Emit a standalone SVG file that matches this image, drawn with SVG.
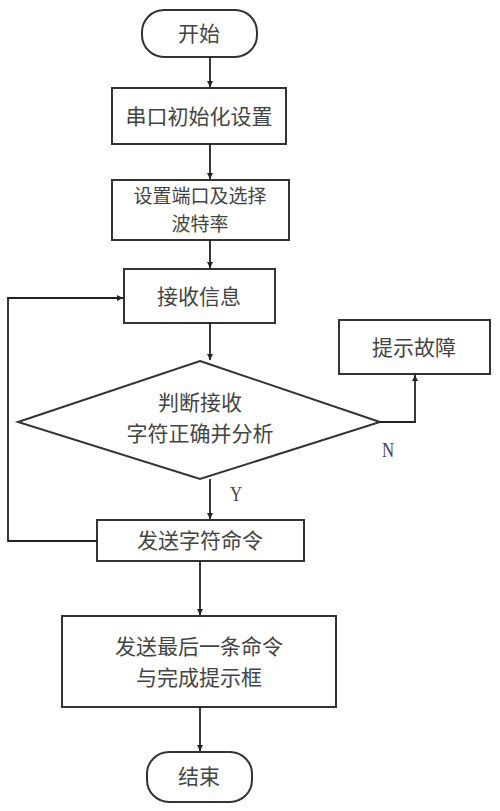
<svg xmlns="http://www.w3.org/2000/svg" width="500" height="811" viewBox="0 0 500 811">
<style>
.n{fill:#fff;stroke:#333;stroke-width:2}
.t{font-family:"Noto Sans CJK SC","Noto Sans",sans-serif;font-size:21px;fill:#444;text-anchor:middle}
.s{font-size:19px}
.l{font-family:"Liberation Serif",serif;font-size:21px;fill:#444;text-anchor:middle}
.c{fill:none;stroke:#222;stroke-width:1.8}
</style>
<defs>
<marker id="a" markerWidth="8" markerHeight="8" refX="6" refY="4" orient="auto" markerUnits="userSpaceOnUse">
<path d="M0,1 L6,4 L0,7 Z" fill="#222"/>
</marker>
</defs>
<rect width="500" height="811" fill="#fff"/>
<g id="start"><rect class="n" x="142" y="10" width="115" height="47" rx="22"/><text class="t" x="199" y="41">开始</text></g>
<g id="init"><rect class="n" x="112" y="88" width="174" height="56"/><text class="t" x="199" y="124">串口初始化设置</text></g>
<g id="port"><rect class="n" x="112" y="180" width="177" height="60"/><text class="t s" x="200" y="203">设置端口及选择</text><text class="t s" x="200" y="231">波特率</text></g>
<g id="recv"><rect class="n" x="124" y="269" width="151" height="54"/><text class="t" x="199" y="304">接收信息</text></g>
<g id="judge"><polygon class="n" points="200,361 380,422 200,479 18,422"/><text class="t" x="200" y="410">判断接收</text><text class="t" x="200" y="441">字符正确并分析</text></g>
<g id="fault"><rect class="n" x="339" y="320" width="151" height="54"/><text class="t" x="414" y="355">提示故障</text></g>
<g id="send"><rect class="n" x="97" y="520" width="207" height="41"/><text class="t" x="200" y="548">发送字符命令</text></g>
<g id="last"><rect class="n" x="62" y="616" width="274" height="91"/><text class="t" x="199" y="654">发送最后一条命令</text><text class="t" x="199" y="685">与完成提示框</text></g>
<g id="end"><rect class="n" x="147" y="752" width="105" height="50" rx="22"/><text class="t" x="199" y="784">结束</text></g>
<g id="connectors">
<line class="c" x1="210" y1="57" x2="210" y2="87" marker-end="url(#a)"/>
<line class="c" x1="210" y1="144" x2="210" y2="179" marker-end="url(#a)"/>
<line class="c" x1="210" y1="240" x2="210" y2="268" marker-end="url(#a)"/>
<line class="c" x1="210" y1="323" x2="210" y2="360" marker-end="url(#a)"/>
<polyline class="c" points="380,422 415,422 415,375" marker-end="url(#a)"/>
<line class="c" x1="210" y1="479" x2="210" y2="519" marker-end="url(#a)"/>
<polyline class="c" points="97,541 8,541 8,298 123,298" marker-end="url(#a)"/>
<line class="c" x1="200" y1="561" x2="200" y2="615" marker-end="url(#a)"/>
<line class="c" x1="200" y1="707" x2="200" y2="751" marker-end="url(#a)"/>
<text class="l" x="388" y="457" transform="translate(388 0) scale(0.8 1) translate(-388 0)">N</text>
<text class="l" x="236" y="501" transform="translate(236 0) scale(0.8 1) translate(-236 0)">Y</text>
</g>
</svg>
